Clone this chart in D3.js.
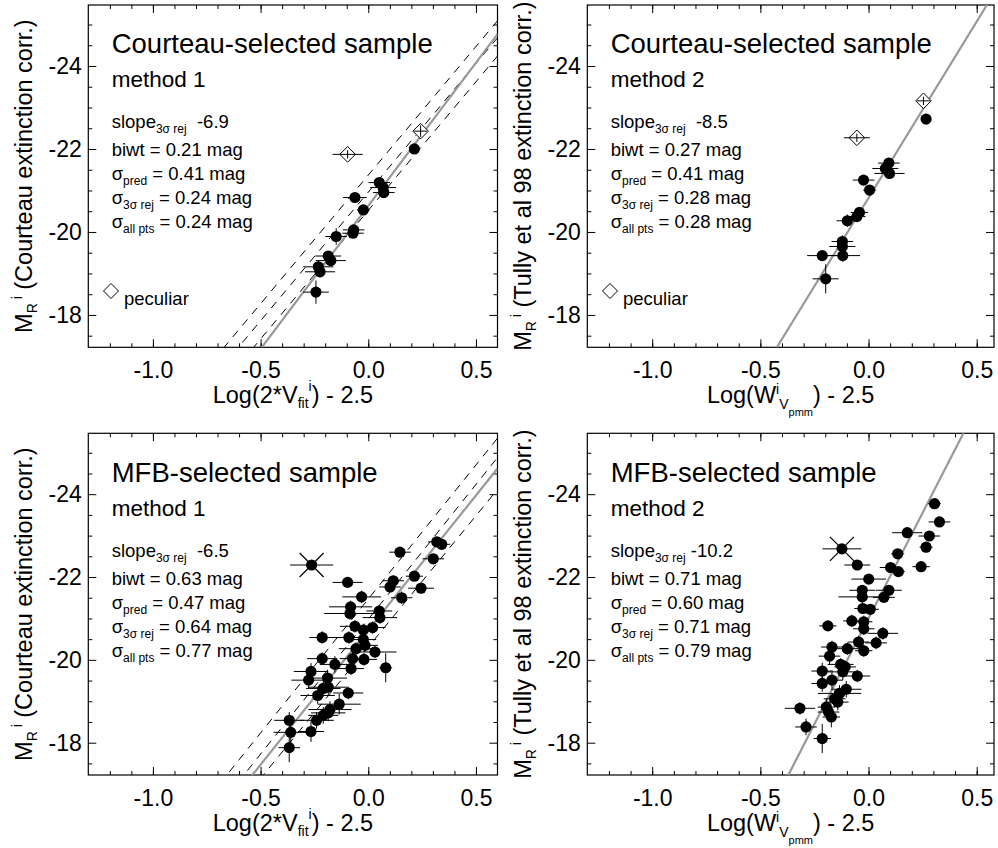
<!DOCTYPE html>
<html><head><meta charset="utf-8">
<script src="https://cdn.jsdelivr.net/npm/d3@7"></script>
<style>
body{margin:0;background:#fff}
svg{display:block}
text{font-family:"Liberation Sans",Arial,Helvetica,sans-serif;fill:#000;white-space:pre}
</style>
</head><body>
<svg id="c" width="998" height="848"></svg>
<script>
// ---------------- tick labels ----------------
const xTicks = [-1.0, -0.5, 0.0, 0.5];
const xTickLabels = ["-1.0", "-0.5", "0.0", "0.5"];
const xMinorTicks = d3.range(-12, 6).map(d => d / 10);
const yTicks = [-24, -22, -20, -18];
const yTickLabels = ["-24", "-22", "-20", "-18"];
const yMinorTicks = [-25, -24.5, -23.5, -23, -22.5, -21.5, -21, -20.5, -19.5, -19, -18.5, -17.5];

// ---------------- panel texts ----------------
const sampleTitles = ["Courteau-selected sample", "Courteau-selected sample", "MFB-selected sample", "MFB-selected sample"];
const methodLabels = ["method 1", "method 2", "method 1", "method 2"];
const slopeValues = ["  -6.9", "  -8.5", "  -6.5", " -10.2"];
const biwtValues = ["0.21", "0.27", "0.63", "0.71"];
const predValues = ["0.41", "0.41", "0.47", "0.60"];
const rejValues = ["0.24", "0.28", "0.64", "0.71"];
const allValues = ["0.24", "0.28", "0.77", "0.79"];

// ---------------- fits: M = intercept + slope * x ----------------
const fitIntercepts = [-20.63, -20.82, -20.72, -21.0];
const fitSlopes = [-6.9, -8.5, -6.5, -10.2];
// dashed lines (left panels only)
const dashA_int = [-21.37, -20.96, -20.52];
const dashA_slope = [-6.2, -6.2, -6.2];
const dashC_int = [-21.47, -20.98, -20.31];
const dashC_slope = [-6.47, -6.51, -6.34];

// ---------------- Panel A: Courteau, method 1 ----------------
const aX = [0.214, 0.051, 0.069, 0.072, -0.062, -0.023, -0.068, -0.071, -0.149, -0.186, -0.174, -0.232, -0.224, -0.243];
const aY = [-22.00, -21.19, -21.07, -20.95, -20.83, -20.53, -20.05, -19.97, -19.89, -19.42, -19.31, -19.16, -19.04, -18.55];
const aXerr = [0.02, 0.05, 0.06, 0.05, 0.055, 0.03, 0.05, 0.05, 0.05, 0.06, 0.07, 0.07, 0.07, 0.06];
const aYerr = [0.10, 0.10, 0.10, 0.10, 0.10, 0.10, 0.12, 0.10, 0.20, 0.12, 0.12, 0.15, 0.12, 0.28];
const aPecX = [-0.096, 0.243];
const aPecY = [-21.87, -22.43];
const aPecXerr = [0.07, 0.03];
const aPecYerr = [0.10, 0.14];

// ---------------- Panel B: Courteau, method 2 ----------------
const bX = [0.266, 0.094, 0.078, 0.097, -0.023, 0.005, -0.042, -0.054, -0.098, -0.121, -0.121, -0.214, -0.119, -0.198];
const bY = [-22.72, -21.66, -21.53, -21.41, -21.25, -21.01, -20.47, -20.37, -20.27, -19.77, -19.65, -19.43, -19.43, -18.87];
const bXerr = [0.02, 0.05, 0.06, 0.07, 0.05, 0.03, 0.04, 0.04, 0.05, 0.05, 0.06, 0.07, 0.08, 0.06];
const bYerr = [0.10, 0.10, 0.10, 0.10, 0.10, 0.10, 0.10, 0.10, 0.15, 0.15, 0.15, 0.10, 0.15, 0.35];
const bPecX = [-0.054, 0.254];
const bPecY = [-22.27, -23.16];
const bPecXerr = [0.06, 0.03];
const bPecYerr = [0.10, 0.10];

// ---------------- Panel C: MFB, method 1 ----------------
const cX = [0.147, 0.318, 0.341, 0.302, -0.096, 0.116, 0.101, 0.214, 0.245, -0.031, 0.155, -0.082, -0.085, 0.051, 0.054,
  -0.062, -0.023, 0.020, -0.214, -0.090, -0.023, -0.015, -0.057, 0.031, -0.214, -0.073, -0.020, -0.155, -0.080, 0.081,
  -0.266, -0.277, -0.189, -0.186, -0.209, -0.093, -0.235, -0.135, -0.178, -0.186, -0.240, -0.367, -0.360, -0.266, -0.367, -0.209];
const cY = [-22.60, -22.85, -22.79, -22.44, -21.87, -21.91, -21.76, -22.02, -21.73, -21.52, -21.50, -21.28, -21.12, -21.18, -21.02,
  -20.81, -20.72, -20.78, -20.54, -20.54, -20.49, -20.35, -20.27, -20.19, -20.03, -20.03, -20.01, -19.89, -19.79, -19.81,
  -19.72, -19.51, -19.56, -19.34, -19.31, -19.20, -19.14, -18.93, -18.80, -18.72, -18.54, -18.54, -18.25, -18.27, -17.88, -18.66];
const cXerr = [0.05, 0.04, 0.04, 0.05, 0.07, 0.05, 0.05, 0.04, 0.06, 0.09, 0.05, 0.10, 0.12, 0.06, 0.08,
  0.07, 0.06, 0.06, 0.06, 0.07, 0.06, 0.06, 0.08, 0.10, 0.07, 0.06, 0.06, 0.07, 0.06, 0.03,
  0.08, 0.08, 0.09, 0.09, 0.08, 0.07, 0.08, 0.10, 0.10, 0.08, 0.08, 0.07, 0.08, 0.06, 0.05, 0.07];
const cYerr = [0.12, 0.10, 0.10, 0.12, 0.12, 0.12, 0.12, 0.10, 0.12, 0.15, 0.15, 0.15, 0.15, 0.15, 0.15,
  0.15, 0.15, 0.15, 0.15, 0.15, 0.15, 0.15, 0.15, 0.15, 0.15, 0.15, 0.15, 0.20, 0.15, 0.35,
  0.20, 0.20, 0.20, 0.20, 0.20, 0.15, 0.20, 0.25, 0.20, 0.20, 0.20, 0.20, 0.25, 0.25, 0.35, 0.20];
const cStarX = [-0.263];
const cStarY = [-22.29];
const cStarXerr = [0.10];

// ---------------- Panel D: MFB, method 2 ----------------
const dX = [0.305, 0.328, 0.179, 0.281, 0.266, 0.135, -0.052, 0.243, 0.102, 0.138, 0.001, -0.029, 0.094, -0.029, 0.071,
  -0.026, 0.008, -0.077, -0.188, -0.022, -0.022, 0.066, -0.046, 0.035, -0.169, -0.098, -0.022, -0.180, -0.129, -0.108,
  -0.214, -0.119, -0.052, -0.169, -0.214, -0.103, -0.134, -0.157, -0.142, -0.195, -0.317, -0.185, -0.172, -0.289, -0.214];
const dY = [-23.77, -23.33, -23.07, -22.99, -22.72, -22.56, -22.29, -22.25, -22.23, -22.13, -21.95, -21.68, -21.68, -21.52, -21.51,
  -21.24, -21.22, -20.94, -20.82, -20.92, -20.75, -20.64, -20.43, -20.41, -20.31, -20.27, -20.22, -20.09, -19.89, -19.83,
  -19.73, -19.71, -19.61, -19.51, -19.43, -19.29, -19.19, -19.06, -18.98, -18.86, -18.83, -18.74, -18.62, -18.38, -18.10];
const dXerr = [0.03, 0.05, 0.07, 0.05, 0.03, 0.03, 0.06, 0.04, 0.05, 0.03, 0.08, 0.06, 0.06, 0.11, 0.05,
  0.04, 0.04, 0.04, 0.04, 0.04, 0.05, 0.07, 0.05, 0.05, 0.05, 0.06, 0.04, 0.05, 0.06, 0.05,
  0.05, 0.08, 0.06, 0.05, 0.05, 0.07, 0.10, 0.05, 0.05, 0.04, 0.07, 0.05, 0.04, 0.05, 0.04];
const dYerr = [0.10, 0.10, 0.10, 0.10, 0.12, 0.10, 0.12, 0.10, 0.12, 0.12, 0.12, 0.12, 0.12, 0.15, 0.12,
  0.12, 0.12, 0.15, 0.12, 0.15, 0.15, 0.15, 0.15, 0.15, 0.15, 0.15, 0.15, 0.20, 0.15, 0.15,
  0.20, 0.20, 0.15, 0.20, 0.20, 0.20, 0.20, 0.20, 0.20, 0.20, 0.15, 0.20, 0.25, 0.20, 0.35];
const dStarX = [-0.123];
const dStarY = [-22.68];
const dStarXerr = [0.09];

// ---------------- axis titles ----------------
const yTitleRest = [" (Courteau extinction corr.)", " (Tully et al 98 extinction corr.)"];

// =====================================================================
const svg = d3.select("#c");
svg.append("rect").attr("width", 998).attr("height", 848).attr("fill", "#fff");

const FONT = 23.5;
function rich(g, x, y, parts, anchor, transform) {
  const t = g.append("text").attr("x", x).attr("y", y).attr("text-anchor", anchor || "start");
  if (transform) t.attr("transform", transform);
  let cur = 0;
  parts.forEach(([s, size, shift]) => {
    t.append("tspan").attr("dy", shift - cur).attr("font-size", size).text(s);
    cur = shift;
  });
  return t;
}
const zip = (...a) => a[0].map((_, i) => a.map(arr => arr[i]));

const panels = [
  {i: 0, left: 88.3, right: 497.5, top: 5, bottom: 347.3, xdom: [-1.3, 0.6],
   pts: zip(aX, aY, aXerr, aYerr), pec: zip(aPecX, aPecY, aPecXerr, aPecYerr), star: [],
   dash: zip(dashA_int, dashA_slope), xt: "A", yt: 0},
  {i: 1, left: 587.3, right: 994, top: 5, bottom: 347.3, xdom: [-1.3, 0.58],
   pts: zip(bX, bY, bXerr, bYerr), pec: zip(bPecX, bPecY, bPecXerr, bPecYerr), star: [],
   dash: [], xt: "B", yt: 1},
  {i: 2, left: 88.3, right: 497.5, top: 433.3, bottom: 775, xdom: [-1.3, 0.6],
   pts: zip(cX, cY, cXerr, cYerr), pec: [], star: zip(cStarX, cStarY, cStarXerr),
   dash: zip(dashC_int, dashC_slope), xt: "A", yt: 0},
  {i: 3, left: 587.3, right: 994, top: 433.3, bottom: 775, xdom: [-1.3, 0.58],
   pts: zip(dX, dY, dXerr, dYerr), pec: [], star: zip(dStarX, dStarY, dStarXerr),
   dash: [], xt: "B", yt: 1}
];

panels.forEach(p => {
  const x = d3.scaleLinear().domain(p.xdom).range([p.left, p.right]);
  const y = d3.scaleLinear().domain([-25.47, -17.22]).range([p.top, p.bottom]);
  const g = svg.append("g");
  const clipId = "clip" + p.i;
  g.append("clipPath").attr("id", clipId).append("rect")
    .attr("x", p.left).attr("y", p.top).attr("width", p.right - p.left).attr("height", p.bottom - p.top);

  // axes (ticks inside the box on all four sides)
  const ax = (gen, tr, ticks, size, labels) => {
    const a = g.append("g").attr("transform", tr)
      .call(gen.tickValues(ticks).tickSize(size).tickSizeOuter(0)
        .tickFormat(labels ? (d, k) => labels[k] : () => ""));
    a.select(".domain").remove();
    a.selectAll("line").attr("stroke", "#000").attr("stroke-width", 1);
    return a;
  };
  const bx = ax(d3.axisBottom(x).tickPadding(14.5), `translate(0,${p.bottom})`, xTicks, -8, xTickLabels);
  bx.selectAll("text").attr("font-size", 23).attr("font-family", null);
  ax(d3.axisBottom(x), `translate(0,${p.bottom})`, xMinorTicks, -4, null);
  ax(d3.axisTop(x), `translate(0,${p.top})`, xTicks, -8, null);
  ax(d3.axisTop(x), `translate(0,${p.top})`, xMinorTicks, -4, null);
  const ly = ax(d3.axisLeft(y).tickPadding(6.5), `translate(${p.left},0)`, yTicks, -8, yTickLabels);
  ly.selectAll("text").attr("font-size", 23).attr("font-family", null);
  ax(d3.axisLeft(y), `translate(${p.left},0)`, yMinorTicks, -4, null);
  ax(d3.axisRight(y), `translate(${p.right},0)`, yTicks, -8, null);
  ax(d3.axisRight(y), `translate(${p.right},0)`, yMinorTicks, -4, null);
  g.selectAll(".tick text").attr("fill", "#000");

  // box
  g.append("rect").attr("x", p.left).attr("y", p.top)
    .attr("width", p.right - p.left).attr("height", p.bottom - p.top)
    .attr("fill", "none").attr("stroke", "#000").attr("stroke-width", 1.2);

  const lg = g.append("g").attr("clip-path", `url(#${clipId})`);
  const x0 = p.xdom[0], x1 = p.xdom[1];
  // dashed lines
  p.dash.forEach(([a, b]) => {
    lg.append("line").attr("x1", x(x0)).attr("y1", y(a + b * x0)).attr("x2", x(x1)).attr("y2", y(a + b * x1))
      .attr("stroke", "#000").attr("stroke-width", 1).attr("stroke-dasharray", "8,7");
  });
  // fit line
  const fa = fitIntercepts[p.i], fb = fitSlopes[p.i];
  lg.append("line").attr("x1", x(x0)).attr("y1", y(fa + fb * x0)).attr("x2", x(x1)).attr("y2", y(fa + fb * x1))
    .attr("stroke", "#999").attr("stroke-width", 2.2);

  // error bars + points
  const pg = g.append("g");
  const ebar = (cx, cy, ex, ey) => {
    pg.append("line").attr("x1", x(cx - ex)).attr("x2", x(cx + ex)).attr("y1", y(cy)).attr("y2", y(cy))
      .attr("stroke", "#000").attr("stroke-width", 1);
    pg.append("line").attr("x1", x(cx)).attr("x2", x(cx)).attr("y1", y(cy - ey)).attr("y2", y(cy + ey))
      .attr("stroke", "#000").attr("stroke-width", 1);
  };
  p.pts.forEach(([cx, cy, ex, ey]) => ebar(cx, cy, ex, ey));
  p.pts.forEach(([cx, cy]) => {
    pg.append("circle").attr("cx", x(cx)).attr("cy", y(cy)).attr("r", 5.6).attr("fill", "#000");
  });
  p.pec.forEach(([cx, cy, ex, ey]) => {
    const px = x(cx), py = y(cy), s = 7.8;
    pg.append("path").attr("d", `M${px - s},${py}L${px},${py - s}L${px + s},${py}L${px},${py + s}Z`)
      .attr("fill", "#fff").attr("stroke", "#000").attr("stroke-width", 1);
    ebar(cx, cy, ex, ey);
  });
  p.star.forEach(([cx, cy, ex]) => {
    const px = x(cx), py = y(cy), s = 12;
    pg.append("line").attr("x1", x(cx - ex)).attr("x2", x(cx + ex)).attr("y1", py).attr("y2", py)
      .attr("stroke", "#000").attr("stroke-width", 1);
    pg.append("path").attr("d", `M${px - s},${py - s}L${px + s},${py + s}M${px - s},${py + s}L${px + s},${py - s}`)
      .attr("stroke", "#000").attr("stroke-width", 1.2);
    pg.append("circle").attr("cx", px).attr("cy", py).attr("r", 5.6).attr("fill", "#000");
  });

  // panel texts
  const tx = p.left + 23.4;
  g.append("text").attr("x", tx).attr("y", p.top + 48.3).attr("font-size", 27.5).text(sampleTitles[p.i]);
  g.append("text").attr("x", tx).attr("y", p.top + 82.3).attr("font-size", 22.5).text(methodLabels[p.i]);
  const sY = p.top + 123.3;
  const SF = 18.5;
  rich(g, tx, sY, [["slope", SF, 0], ["3σ rej", 12, 5], [slopeValues[p.i], SF, 0]]);
  g.append("text").attr("x", tx).attr("y", sY + 28).attr("font-size", SF).text(`biwt = ${biwtValues[p.i]} mag`);
  rich(g, tx, sY + 52, [["σ", SF, 0], ["pred", 12, 5], [` = ${predValues[p.i]} mag`, SF, 0]]);
  rich(g, tx, sY + 76, [["σ", SF, 0], ["3σ rej", 12, 5], [` = ${rejValues[p.i]} mag`, SF, 0]]);
  rich(g, tx, sY + 100, [["σ", SF, 0], ["all pts", 12, 5], [` = ${allValues[p.i]} mag`, SF, 0]]);

  // peculiar legend
  if (p.pec.length) {
    const lx = p.left + 22.7, ly2 = p.top + 286, s = 7.5;
    g.append("path").attr("d", `M${lx - s},${ly2}L${lx},${ly2 - s}L${lx + s},${ly2}L${lx},${ly2 + s}Z`)
      .attr("fill", "none").attr("stroke", "#000").attr("stroke-width", 1);
    g.append("text").attr("x", p.left + 35.7).attr("y", p.top + 300).attr("font-size", SF).text("peculiar");
  }

  // axis titles
  const cxm = (p.left + p.right) / 2;
  if (p.xt === "A") {
    rich(g, cxm, p.bottom + 56, [["Log(2*V", FONT, 0], ["fit", 14, 5], ["i", 14, -12], [") - 2.5", FONT, 0]], "middle");
  } else {
    rich(g, cxm, p.bottom + 56, [["Log(W", FONT, 0], ["i", 14, -9], ["V", 14, 6], ["pmm", 11, 13], [") - 2.5", FONT, 0]], "middle");
  }
  const cym = (p.top + p.bottom) / 2;
  const bxp = p.left - 56;
  rich(g, 0, 0, [["M", FONT, 0], ["R", 14, 5], [" i", 14, -10], [yTitleRest[p.yt], FONT, 0]], "middle",
    `translate(${bxp},${cym}) rotate(-90)`);
});
</script>
</body></html>
